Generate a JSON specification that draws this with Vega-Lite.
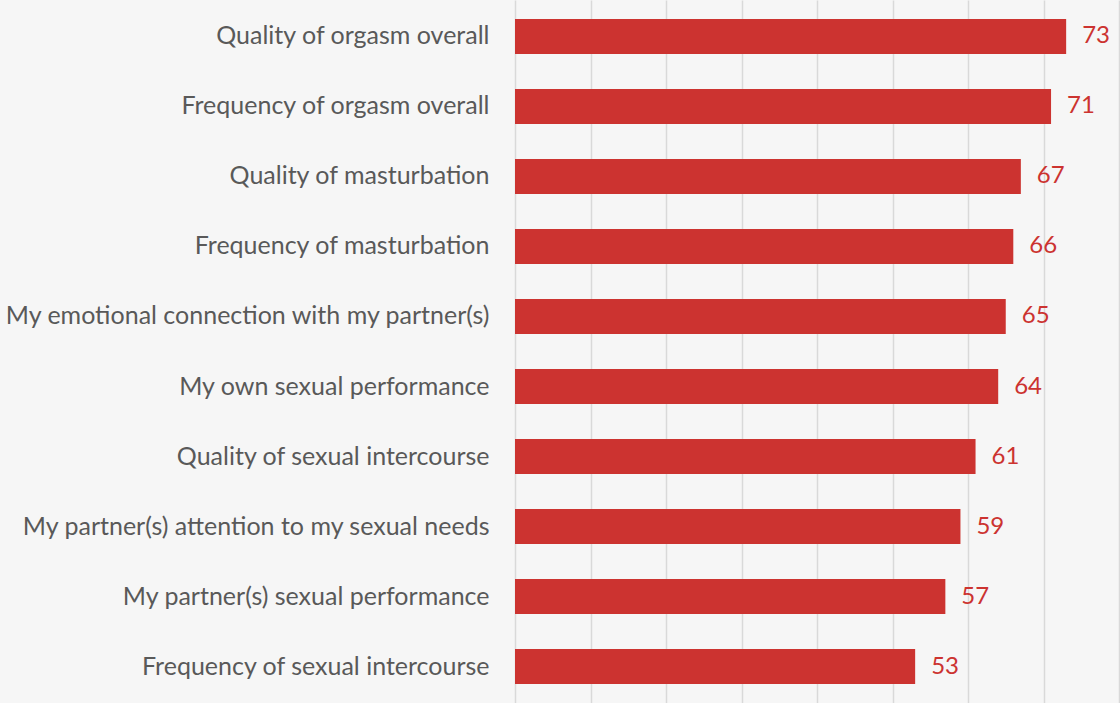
{
  "$schema": "https://vega.github.io/schema/vega-lite/v6.json",
  "width": 604,
  "height": 703,
  "autosize": "none",
  "padding": {"left": 515, "top": 0, "right": 1, "bottom": 0},
  "background": "#f6f6f6",
  "config": {"view": {"stroke": null}},
  "data": {"values": [
    {"item": "Quality of orgasm overall", "value": 73},
    {"item": "Frequency of orgasm overall", "value": 71},
    {"item": "Quality of masturbation", "value": 67},
    {"item": "Frequency of masturbation", "value": 66},
    {"item": "My emotional connection with my partner(s)", "value": 65},
    {"item": "My own sexual performance", "value": 64},
    {"item": "Quality of sexual intercourse", "value": 61},
    {"item": "My partner(s) attention to my sexual needs", "value": 59},
    {"item": "My partner(s) sexual performance", "value": 57},
    {"item": "Frequency of sexual intercourse", "value": 53}
  ]},
  "encoding": {
    "y": {"field": "item", "type": "nominal", "sort": null,
      "scale": {"paddingInner": 0.5, "paddingOuter": 0.27},
      "axis": {"title": null, "domain": false, "ticks": false, "labelFont": "Lato", "labelFontSize": 25, "labelColor": "#595959", "labelPadding": 26, "labelLimit": 600}},
    "x": {"field": "value", "type": "quantitative",
      "scale": {"domain": [0, 80], "nice": false},
      "axis": {"title": null, "labels": false, "ticks": false, "domain": false, "grid": true, "gridColor": "#d9d9d9", "gridWidth": 1.5, "values": [0,10,20,30,40,50,60,70,80]}}
  },
  "layer": [
    {"mark": {"type": "bar", "color": "#cc3330"}},
    {"mark": {"type": "text", "align": "left", "dx": 16, "font": "Lato", "fontSize": 24, "color": "#cc3330"},
     "encoding": {"text": {"field": "value", "type": "quantitative"}}}
  ]
}
